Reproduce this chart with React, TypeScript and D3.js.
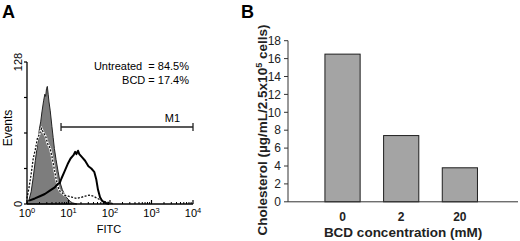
import React, { useEffect, useRef } from "react";
import * as d3 from "d3";

// ---------- Panel A: flow cytometry histogram (x = log10 FITC, y = events) ----------
const xDecades = [0, 1, 2, 3, 4];
const yTicksA = [0, 32, 64, 96, 128];
const yLabelsA = ["0", "128"];

// Control (gray filled)
const controlX = [0.0, 0.05, 0.1, 0.15, 0.2, 0.25, 0.3, 0.33, 0.36, 0.4, 0.43, 0.45, 0.47, 0.49, 0.51, 0.53, 0.56, 0.6, 0.63, 0.66, 0.7, 0.75, 0.8, 0.85, 0.9, 0.95, 1.0, 1.05, 1.1, 1.2];
const controlY = [1, 4, 11, 24, 39, 53, 68, 74, 83, 93, 99, 97, 104, 106, 99, 92, 84, 70, 60, 50, 40, 29, 19, 13, 9, 6, 4, 2, 1, 0];

// BCD treated (dashed)
const bcdX = [0.0, 0.05, 0.1, 0.15, 0.2, 0.25, 0.3, 0.35, 0.4, 0.45, 0.5, 0.55, 0.6, 0.65, 0.7, 0.75, 0.8, 0.85, 0.9, 1.0, 1.1, 1.2, 1.3, 1.4, 1.5, 1.6, 1.7, 1.8, 1.9, 2.0, 2.1];
const bcdY = [5, 15, 27, 41, 49, 59, 63, 68, 64, 61, 54, 51, 43, 33, 23, 15, 11, 10, 8, 7, 6, 5, 6, 7, 8, 7, 5, 3, 2, 1, 0];

// Untreated (thick solid)
const untrX = [0.05, 0.19, 0.31, 0.43, 0.55, 0.67, 0.74, 0.79, 0.83, 0.9, 0.98, 1.05, 1.12, 1.16, 1.19, 1.23, 1.26, 1.33, 1.4, 1.48, 1.55, 1.62, 1.67, 1.71, 1.76, 1.81, 1.88, 1.98];
const untrY = [3, 5, 7, 9, 12, 15, 18, 19, 23, 29, 36, 41, 44, 47, 45, 48, 45, 42, 39, 34, 32, 29, 22, 13, 6, 3, 1, 0];

const statLines = ["Untreated  = 84.5%", "BCD = 17.4%"];
const gateRange = [0.82, 4];
const gateLabel = "M1";

// ---------- Panel B: bar chart ----------
const categories = ["0", "2", "20"];
const cholesterol = [16.5, 7.4, 3.8];
const yTicksB = [0, 2, 4, 6, 8, 10, 12, 14, 16, 18];

const FONT = "'Liberation Sans', Arial, Helvetica, sans-serif";

export default function App() {
  const ref = useRef<SVGSVGElement>(null);

  useEffect(() => {
    const svg = d3.select(ref.current);
    svg.selectAll("*").remove();
    svg.attr("font-family", FONT);

    // ================= Panel A =================
    const gA = svg.append("g");
    const xA = d3.scaleLinear().domain([0, 4]).range([27, 193]);
    const yA = d3.scaleLinear().domain([0, 128]).range([204, 62]);

    gA.append("text").attr("x", 2).attr("y", 18).attr("font-size", 18).attr("font-weight", "bold").text("A");

    // control filled
    const ctl = controlX.map((x, i) => [x, controlY[i]] as [number, number]);
    gA.append("path")
      .datum(ctl)
      .attr("d", d3.area<[number, number]>().x(d => xA(d[0])).y0(yA(0)).y1(d => yA(d[1]))(ctl) as string)
      .attr("fill", "#7d7d7d")
      .attr("stroke", "#222")
      .attr("stroke-width", 1);

    // BCD dashed
    const bcd = bcdX.map((x, i) => [x, bcdY[i]] as [number, number]);
    const line = d3.line<[number, number]>().x(d => xA(d[0])).y(d => yA(d[1]));
    gA.append("path").attr("d", line(bcd) as string)
      .attr("fill", "none").attr("stroke", "#fff").attr("stroke-width", 2.2);
    gA.append("path").attr("d", line(bcd) as string)
      .attr("fill", "none").attr("stroke", "#111").attr("stroke-width", 1.3).attr("stroke-dasharray", "2,1.5");

    // Untreated thick
    const un = untrX.map((x, i) => [x, untrY[i]] as [number, number]);
    gA.append("path").attr("d", line(un) as string)
      .attr("fill", "none").attr("stroke", "#000").attr("stroke-width", 2).attr("stroke-linejoin", "round");

    // axes
    gA.append("line").attr("x1", xA(0)).attr("x2", xA(0)).attr("y1", yA(128)).attr("y2", yA(0)).attr("stroke", "#000").attr("stroke-width", 1.3);
    gA.append("line").attr("x1", xA(0)).attr("x2", xA(4)).attr("y1", yA(0)).attr("y2", yA(0)).attr("stroke", "#000").attr("stroke-width", 1.3);
    yTicksA.forEach(t => {
      gA.append("line").attr("x1", xA(0) - 3).attr("x2", xA(0)).attr("y1", yA(t)).attr("y2", yA(t)).attr("stroke", "#000").attr("stroke-width", 1.2);
    });
    [0, 128].forEach((t, i) => {
      gA.append("text")
        .attr("transform", `translate(${xA(0) - 5},${yA(t)}) rotate(-90)`)
        .attr("text-anchor", "middle").attr("font-size", 11).text(yLabelsA[i]);
    });
    // x ticks (major + minor)
    xDecades.forEach(dc => {
      gA.append("line").attr("x1", xA(dc)).attr("x2", xA(dc)).attr("y1", yA(0)).attr("y2", yA(0) - 4).attr("stroke", "#000").attr("stroke-width", 1.2);
      if (dc < 4) {
        for (let m = 2; m <= 9; m++) {
          const lx = xA(dc + Math.log10(m));
          gA.append("line").attr("x1", lx).attr("x2", lx).attr("y1", yA(0)).attr("y2", yA(0) - 2).attr("stroke", "#000").attr("stroke-width", 1);
        }
      }
      const t = gA.append("text").attr("x", xA(dc)).attr("y", 217).attr("text-anchor", "middle").attr("font-size", 11);
      t.append("tspan").text("10");
      t.append("tspan").attr("dy", -4).attr("font-size", 7.5).text(String(dc));
    });
    gA.append("text").attr("x", 109).attr("y", 233).attr("text-anchor", "middle").attr("font-size", 11).text("FITC");
    gA.append("text").attr("transform", `translate(12,128) rotate(-90)`).attr("text-anchor", "middle").attr("font-size", 12).text("Events");

    // stats text
    statLines.forEach((s, i) => {
      gA.append("text").attr("x", 189).attr("y", 70 + i * 13.5).attr("text-anchor", "end").attr("font-size", 11)
        .style("white-space", "pre").text(s);
    });

    // gate M1
    const gy = 127;
    gA.append("line").attr("x1", xA(gateRange[0])).attr("x2", xA(gateRange[1])).attr("y1", gy).attr("y2", gy).attr("stroke", "#222").attr("stroke-width", 1.5);
    gateRange.forEach(g => {
      gA.append("line").attr("x1", xA(g)).attr("x2", xA(g)).attr("y1", gy - 4).attr("y2", gy + 4).attr("stroke", "#222").attr("stroke-width", 1.3);
    });
    gA.append("text").attr("x", xA(gateRange[1]) - 12).attr("y", gy - 5).attr("text-anchor", "end").attr("font-size", 11).text(gateLabel).attr("x", xA(gateRange[1]) - 13);

    // ================= Panel B =================
    const gB = svg.append("g");
    const yB = d3.scaleLinear().domain([0, 18]).range([201.8, 40.7]);
    const xB = d3.scaleBand<string>().domain(categories).range([313.2, 489.2]).paddingInner(0.4).paddingOuter(0.2);

    gB.append("text").attr("x", 241).attr("y", 18).attr("font-size", 18).attr("font-weight", "bold").text("B");

    categories.forEach((c, i) => {
      gB.append("rect")
        .attr("x", xB(c)!).attr("width", xB.bandwidth())
        .attr("y", yB(cholesterol[i])).attr("height", yB(0) - yB(cholesterol[i]))
        .attr("fill", "#a4a4a4").attr("stroke", "#1e1e1e").attr("stroke-width", 1);
      gB.append("text").attr("x", xB(c)! + xB.bandwidth() / 2).attr("y", 221).attr("text-anchor", "middle")
        .attr("font-size", 12).attr("font-weight", "bold").attr("fill", "#222").text(c);
    });

    gB.append("line").attr("x1", 288).attr("x2", 288).attr("y1", yB(18)).attr("y2", yB(0)).attr("stroke", "#333").attr("stroke-width", 1);
    gB.append("line").attr("x1", 288).attr("x2", 518).attr("y1", yB(0)).attr("y2", yB(0)).attr("stroke", "#333").attr("stroke-width", 1);
    yTicksB.forEach(t => {
      gB.append("line").attr("x1", 284).attr("x2", 288).attr("y1", yB(t)).attr("y2", yB(t)).attr("stroke", "#333").attr("stroke-width", 1);
      gB.append("text").attr("x", 281).attr("y", yB(t) + 4.2).attr("text-anchor", "end").attr("font-size", 12).attr("fill", "#222").text(String(t));
    });

    gB.append("text").attr("x", 403).attr("y", 237).attr("text-anchor", "middle").attr("font-size", 13.5).attr("font-weight", "bold").attr("fill", "#222")
      .text("BCD concentration (mM)");

    const yt = gB.append("text").attr("transform", `translate(267,130) rotate(-90)`).attr("text-anchor", "middle")
      .attr("font-size", 13.5).attr("font-weight", "bold").attr("fill", "#222");
    yt.append("tspan").text("Cholesterol (µg/mL/2.5x10");
    yt.append("tspan").attr("dy", -5).attr("font-size", 9).text("5");
    yt.append("tspan").attr("dy", 5).text(" cells)");
  }, []);

  return (
    <svg ref={ref} width={520} height={241} style={{ position: "absolute", left: 0, top: 0, background: "#fff" }} />
  );
}
